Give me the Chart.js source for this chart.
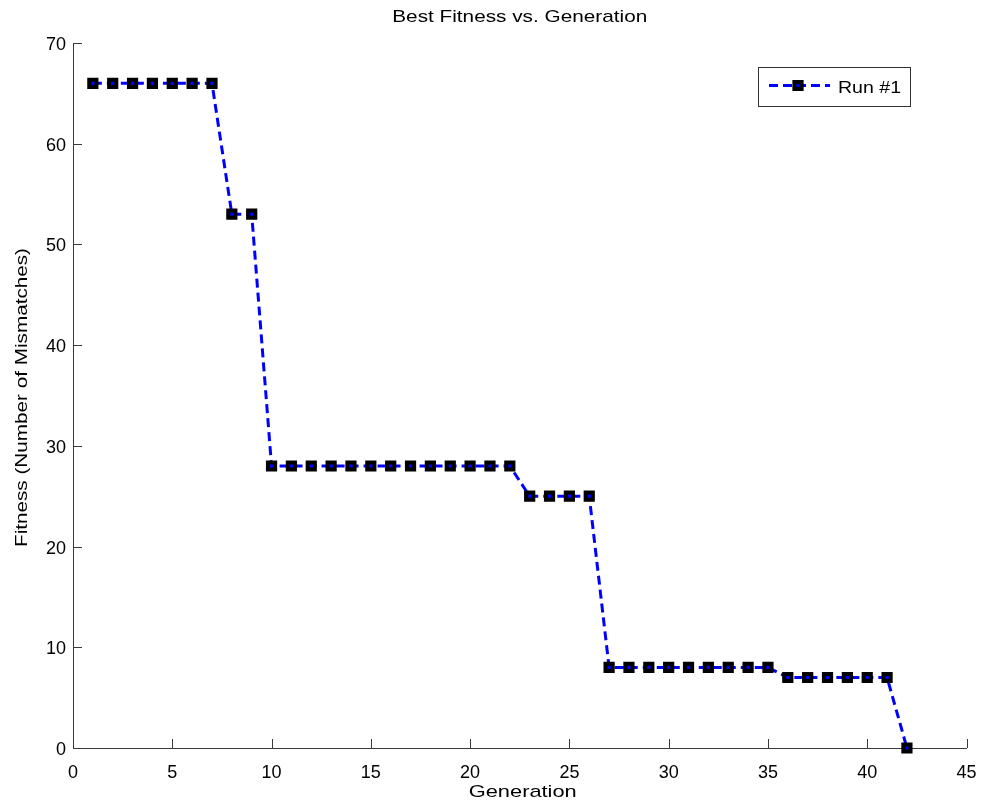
<!DOCTYPE html>
<html>
<head>
<meta charset="utf-8">
<script src="https://cdn.jsdelivr.net/npm/chart.js@4/dist/chart.umd.min.js"></script>
<style>
  html, body { margin: 0; padding: 0; background: #fff; }
  #wrap { width: 984px; height: 811px; position: relative; }
</style>
</head>
<body>
<div id="wrap"><canvas id="c" width="984" height="811"></canvas></div>
<script>
// ---- data ----
const generations = [1,2,3,4,5,6,7,8,9,10,11,12,13,14,15,16,17,18,19,20,21,22,23,24,25,26,27,28,29,30,31,32,33,34,35,36,37,38,39,40,41,42];
const fitness = [66,66,66,66,66,66,66,53,53,28,28,28,28,28,28,28,28,28,28,28,28,28,25,25,25,25,8,8,8,8,8,8,8,8,8,7,7,7,7,7,7,0];
const xTicks = [0,5,10,15,20,25,30,35,40,45];
const yTicks = [0,10,20,30,40,50,60,70];
const seriesLabel = 'Run #1';
const chartTitle = 'Best Fitness vs. Generation';
const xTitle = 'Generation';
const yTitle = 'Fitness (Number of Mismatches)';

const FONT = '"Liberation Sans", Arial, Helvetica, sans-serif';
const AXIS_COLOR = '#3a3a3a';

const points = generations.map((g, i) => ({ x: g, y: fitness[i] }));

// draw text horizontally stretched to a given width (mimics the wide bitmap font)
function wideText(ctx, text, x, y, width, align) {
  const w = ctx.measureText(text).width;
  const k = width / w;
  ctx.save();
  ctx.translate(align === 'center' ? x - width / 2 : x, y);
  ctx.scale(k, 1);
  ctx.textAlign = 'left';
  ctx.fillText(text, 0, 0);
  ctx.restore();
}

const matlabDecor = {
  id: 'matlabDecor',
  afterDraw(chart) {
    const ctx = chart.ctx;
    const xs = chart.scales.x, ys = chart.scales.y;
    const area = chart.chartArea;
    ctx.save();
    // inward ticks
    ctx.strokeStyle = AXIS_COLOR;
    ctx.lineWidth = 1;
    ctx.beginPath();
    xTicks.forEach(v => {
      const px = Math.round(xs.getPixelForValue(v)) + 0.5;
      ctx.moveTo(px, area.bottom);
      ctx.lineTo(px, area.bottom - 9);
    });
    yTicks.forEach(v => {
      const py = Math.round(ys.getPixelForValue(v)) + 0.5;
      ctx.moveTo(area.left, py);
      ctx.lineTo(area.left + 9, py);
    });
    ctx.stroke();
    // titles
    ctx.fillStyle = '#000';
    ctx.font = '17px ' + FONT;
    ctx.textBaseline = 'alphabetic';
    wideText(ctx, chartTitle, (area.left + area.right) / 2, 22, 255, 'center');
    wideText(ctx, xTitle, (area.left + area.right) / 2 + 3, 797, 108, 'center');
    ctx.save();
    ctx.translate(26.5, (area.top + area.bottom) / 2 + 2);
    ctx.rotate(-Math.PI / 2);
    wideText(ctx, yTitle, 0, 0, 299, 'center');
    ctx.restore();
    // legend box
    const lx = 758.5, ly = 67.5, lw = 152, lh = 39;
    ctx.fillStyle = '#fff';
    ctx.fillRect(lx, ly, lw, lh);
    ctx.strokeStyle = '#333';
    ctx.lineWidth = 1;
    ctx.strokeRect(lx, ly, lw, lh);
    const ds = chart.data.datasets[0];
    const cy = 85.5;
    ctx.strokeStyle = ds.borderColor;
    ctx.lineWidth = ds.borderWidth;
    ctx.setLineDash(ds.borderDash);
    ctx.beginPath();
    ctx.moveTo(769, cy);
    ctx.lineTo(830, cy);
    ctx.stroke();
    ctx.setLineDash([]);
    ctx.fillStyle = ds.pointBackgroundColor;
    ctx.strokeStyle = ds.pointBorderColor;
    ctx.lineWidth = ds.pointBorderWidth;
    ctx.beginPath();
    const s = ds.pointRadius * Math.SQRT1_2;
    ctx.rect(798 - s, cy - s, 2 * s, 2 * s);
    ctx.fill();
    ctx.stroke();
    ctx.fillStyle = '#000';
    ctx.font = '17px ' + FONT;
    ctx.textBaseline = 'alphabetic';
    wideText(ctx, ds.label, 838, 93, 63, 'left');
    ctx.restore();
  }
};

function zeroPad(scale) {
  scale.paddingLeft = 0; scale.paddingRight = 0;
  scale.paddingTop = 0; scale.paddingBottom = 0;
}

new Chart(document.getElementById('c'), {
  type: 'line',
  data: {
    datasets: [{
      label: seriesLabel,
      data: points,
      borderColor: '#0000ff',
      borderWidth: 3,
      borderDash: [9, 5],
      pointStyle: 'rect',
      pointRadius: 5.1,
      pointBorderWidth: 4,
      pointBackgroundColor: '#0000ff',
      pointBorderColor: '#000000',
      tension: 0,
      fill: false,
      clip: false
    }]
  },
  options: {
    responsive: false,
    animation: false,
    devicePixelRatio: 1,
    layout: { padding: { top: 43, right: 17.5, left: 0, bottom: 0 } },
    plugins: {
      legend: { display: false },
      title: { display: false },
      tooltip: { enabled: false }
    },
    scales: {
      x: {
        type: 'linear',
        min: 0, max: 45,
        afterBuildTicks(scale) { scale.ticks = xTicks.map(v => ({ value: v })); },
        afterFit(scale) { scale.height = 63; zeroPad(scale); },
        border: { display: true, color: AXIS_COLOR, width: 1 },
        grid: { display: false, drawTicks: false },
        ticks: { color: '#000', font: { family: FONT, size: 18 }, padding: 14, maxRotation: 0, autoSkip: false },
        title: { display: false }
      },
      y: {
        type: 'linear',
        min: 0, max: 70,
        afterBuildTicks(scale) { scale.ticks = yTicks.map(v => ({ value: v })); },
        afterFit(scale) { scale.width = 73; zeroPad(scale); },
        border: { display: true, color: AXIS_COLOR, width: 1 },
        grid: { display: false, drawTicks: false },
        ticks: { color: '#000', font: { family: FONT, size: 18 }, padding: 7, labelOffset: 2, autoSkip: false },
        title: { display: false }
      }
    }
  },
  plugins: [matlabDecor]
});
</script>
</body>
</html>
